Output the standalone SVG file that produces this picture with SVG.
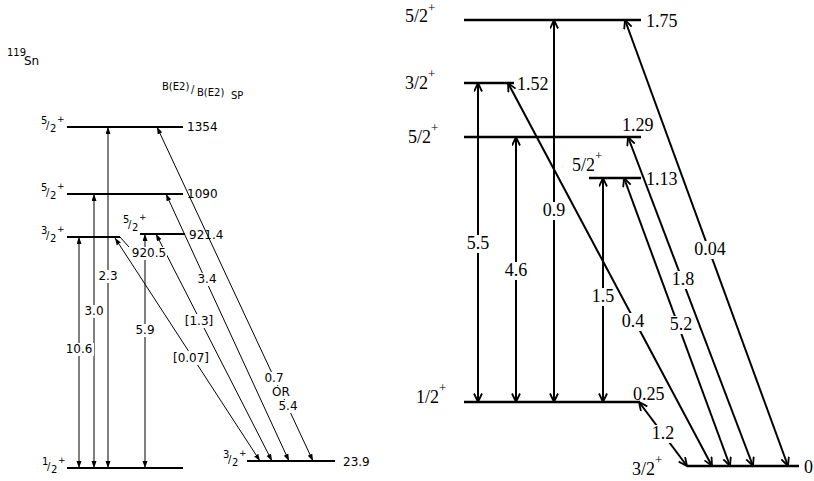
<svg xmlns="http://www.w3.org/2000/svg" width="814" height="481" viewBox="0 0 814 481">
<style>
  .bg{fill:#fff}
  .lvL{stroke:#000;stroke-width:2;fill:none}
  .lvR{stroke:#000;stroke-width:2.6;fill:none}
  .arL{stroke:#000;stroke-width:1;fill:none;marker-start:url(#hL);marker-end:url(#hL)}
  .arR{stroke:#000;stroke-width:2;fill:none;marker-start:url(#hR);marker-end:url(#hR)}
  .tL{font-family:"DejaVu Sans",sans-serif;font-size:12px;fill:#000}
  .tLc{font-family:"DejaVu Sans",sans-serif;font-size:12px;fill:#000;text-anchor:middle}
  .fL{font-family:"DejaVu Sans",sans-serif;font-size:10px;fill:#000}
  .tR{font-family:"Liberation Serif","Times New Roman",serif;font-size:18px;fill:#000}
  .tRc{font-family:"Liberation Serif","Times New Roman",serif;font-size:18px;fill:#000;text-anchor:middle}
  .sup{font-size:13px}
</style>
<defs>
  <marker id="hL" markerUnits="userSpaceOnUse" markerWidth="8" markerHeight="6" refX="7" refY="2.5" orient="auto-start-reverse">
    <path d="M0,0 L7,2.5 L0,5 Z" fill="#000"/>
  </marker>
  <marker id="hR" markerUnits="userSpaceOnUse" markerWidth="10" markerHeight="10" refX="9" refY="4.5" orient="auto-start-reverse">
    <path d="M0.5,0.5 L9,4.5 L0.5,8.5" fill="none" stroke="#000" stroke-width="1.8"/>
  </marker>
</defs>
<rect class="bg" x="0" y="0" width="814" height="481"/>

<!-- Left diagram titles -->
<g id="title-left">
  <text class="fL" x="7" y="56" font-size="8">119</text>
  <text class="tL" x="24" y="65" font-size="16">Sn</text>
  <text class="fL" x="162" y="90" font-size="10">B(E2)</text>
  <text class="fL" x="191" y="93" font-size="13">/</text>
  <text class="fL" x="197" y="96" font-size="10">B(E2)</text>
  <text class="fL" x="231" y="99" font-size="9">SP</text>
</g>

<!-- Connectors -->
<g id="connectors">
  <!-- left -->
  <line class="arL" x1="79" y1="237" x2="79" y2="468"/>
  <line class="arL" x1="94" y1="194" x2="94" y2="468"/>
  <line class="arL" x1="108" y1="127" x2="108" y2="468"/>
  <line class="arL" x1="145" y1="234" x2="145" y2="468"/>
  <line class="arL" x1="115" y1="238" x2="260" y2="461"/>
  <line class="arL" x1="156" y1="234" x2="272" y2="461"/>
  <line class="arL" x1="166" y1="194" x2="289" y2="461"/>
  <line class="arL" x1="157" y1="127" x2="313" y2="461"/>
  <line x1="120" y1="237" x2="129" y2="247" stroke="#000" stroke-width="1"/>
  <!-- right -->
  <line class="arR" x1="478" y1="83" x2="478" y2="402"/>
  <line class="arR" x1="516" y1="137" x2="516" y2="402"/>
  <line class="arR" x1="554" y1="20" x2="554" y2="402"/>
  <line class="arR" x1="603" y1="178" x2="603" y2="402"/>
  <line class="arR" x1="508" y1="83" x2="712" y2="466"/>
  <line class="arR" x1="624" y1="178" x2="730" y2="466"/>
  <line class="arR" x1="628" y1="137" x2="753" y2="466"/>
  <line class="arR" x1="625" y1="20" x2="788" y2="466"/>
  <line class="arR" x1="639" y1="402" x2="687" y2="466"/>
</g>

<!-- connector labels -->
<g id="connector-labels">
  <rect class="bg" x="97" y="270" width="22" height="13"/><text class="tLc" x="108" y="280">2.3</text>
  <rect class="bg" x="83" y="305" width="22" height="13"/><text class="tLc" x="94" y="315">3.0</text>
  <rect class="bg" x="64" y="343" width="30" height="13"/><text class="tLc" x="79" y="353">10.6</text>
  <rect class="bg" x="134" y="324" width="22" height="13"/><text class="tLc" x="145" y="334">5.9</text>
  <rect class="bg" x="172" y="351" width="38" height="14"/><text class="tLc" x="191" y="362">[0.07]</text>
  <rect class="bg" x="184" y="314" width="30" height="14"/><text class="tLc" x="199" y="325">[1.3]</text>
  <rect class="bg" x="196" y="273" width="22" height="13"/><text class="tLc" x="207" y="283">3.4</text>
  <rect class="bg" x="263" y="372" width="22" height="13"/><text class="tLc" x="274" y="382">0.7</text>
  <rect class="bg" x="270" y="386" width="22" height="13"/><text class="tLc" x="281" y="396">OR</text>
  <rect class="bg" x="277" y="400" width="22" height="13"/><text class="tLc" x="288" y="410">5.4</text>

  <rect class="bg" x="466" y="235" width="24" height="18"/><text class="tRc" x="478" y="249">5.5</text>
  <rect class="bg" x="504" y="262" width="24" height="18"/><text class="tRc" x="516" y="276">4.6</text>
  <rect class="bg" x="542" y="202" width="24" height="18"/><text class="tRc" x="554" y="216">0.9</text>
  <rect class="bg" x="591" y="288" width="24" height="18"/><text class="tRc" x="603" y="302">1.5</text>
  <rect class="bg" x="621" y="313" width="24" height="18"/><text class="tRc" x="633" y="327">0.4</text>
  <rect class="bg" x="669" y="316" width="24" height="18"/><text class="tRc" x="681" y="330">5.2</text>
  <rect class="bg" x="671" y="271" width="24" height="18"/><text class="tRc" x="683" y="285">1.8</text>
  <rect class="bg" x="693" y="241" width="34" height="18"/><text class="tRc" x="710" y="255">0.04</text>
  <rect class="bg" x="651" y="425" width="24" height="18"/><text class="tRc" x="663" y="439">1.2</text>
</g>

<!-- Left levels -->
<g id="L1354">
  <line class="lvL" x1="67" y1="127" x2="183" y2="127"/>
  <text class="fL"><tspan x="41" y="124">5</tspan><tspan x="46" y="129">/</tspan><tspan x="50" y="132">2</tspan><tspan x="57" y="122" font-size="9">+</tspan></text>
  <text class="tL" x="187" y="131">1354</text>
</g>
<g id="L1090">
  <line class="lvL" x1="67" y1="194" x2="183" y2="194"/>
  <text class="fL"><tspan x="41" y="191">5</tspan><tspan x="46" y="196">/</tspan><tspan x="50" y="199">2</tspan><tspan x="57" y="189" font-size="9">+</tspan></text>
  <text class="tL" x="187" y="198">1090</text>
</g>
<g id="L920">
  <line class="lvL" x1="67" y1="237" x2="120" y2="237"/>
  <text class="fL"><tspan x="41" y="234">3</tspan><tspan x="46" y="239">/</tspan><tspan x="50" y="242">2</tspan><tspan x="57" y="232" font-size="9">+</tspan></text>
  <rect class="bg" x="131" y="247" width="36" height="13"/>
  <text class="tLc" x="149" y="257">920.5</text>
</g>
<g id="L921">
  <line class="lvL" x1="140" y1="234" x2="185" y2="234"/>
  <text class="fL"><tspan x="123" y="223">5</tspan><tspan x="128" y="228">/</tspan><tspan x="132" y="231">2</tspan><tspan x="139" y="220" font-size="9">+</tspan></text>
  <text class="tL" x="189" y="239">921.4</text>
</g>
<g id="L0">
  <line class="lvL" x1="67" y1="468" x2="183" y2="468"/>
  <text class="fL"><tspan x="42" y="465">1</tspan><tspan x="47" y="470">/</tspan><tspan x="51" y="473">2</tspan><tspan x="58" y="463" font-size="9">+</tspan></text>
</g>
<g id="L23">
  <line class="lvL" x1="247" y1="461" x2="335" y2="461"/>
  <text class="fL"><tspan x="223" y="458">3</tspan><tspan x="228" y="463">/</tspan><tspan x="232" y="466">2</tspan><tspan x="239" y="456" font-size="9">+</tspan></text>
  <text class="tL" x="343" y="466">23.9</text>
</g>

<!-- Right levels -->
<g id="R175">
  <line class="lvR" x1="464" y1="20" x2="641" y2="20"/>
  <text class="tR" x="405" y="22">5/2<tspan class="sup" dy="-10">+</tspan></text>
  <text class="tR" x="646" y="27">1.75</text>
</g>
<g id="R152">
  <line class="lvR" x1="464" y1="83" x2="514" y2="83"/>
  <text class="tR" x="405" y="89">3/2<tspan class="sup" dy="-11">+</tspan></text>
  <text class="tR" x="517" y="90">1.52</text>
</g>
<g id="R129">
  <line class="lvR" x1="464" y1="137" x2="641" y2="137"/>
  <text class="tR" x="408" y="143">5/2<tspan class="sup" dy="-11">+</tspan></text>
  <text class="tR" x="622" y="131">1.29</text>
</g>
<g id="R113">
  <line class="lvR" x1="589" y1="178" x2="641" y2="178"/>
  <text class="tR" x="572" y="171">5/2<tspan class="sup" dy="-11">+</tspan></text>
  <text class="tR" x="646" y="185">1.13</text>
</g>
<g id="R025">
  <line class="lvR" x1="464" y1="402" x2="640" y2="402"/>
  <text class="tR" x="416" y="403">1/2<tspan class="sup" dy="-11">+</tspan></text>
  <text class="tR" x="633" y="400">0.25</text>
</g>
<g id="R0">
  <line class="lvR" x1="687" y1="466" x2="799" y2="466"/>
  <text class="tR" x="632" y="475">3/2<tspan class="sup" dy="-11">+</tspan></text>
  <text class="tR" x="804" y="473">0</text>
</g>
</svg>
